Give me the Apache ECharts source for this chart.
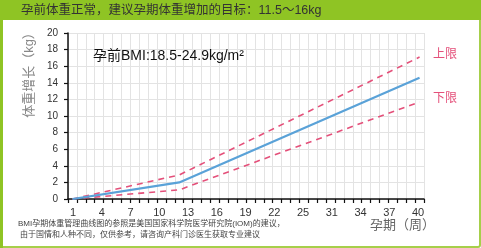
<!DOCTYPE html>
<html><head><meta charset="utf-8">
<script src="https://cdn.jsdelivr.net/npm/echarts@6/dist/echarts.min.js"></script>
<style>html,body{margin:0;padding:0;background:#fff}#c{width:481px;height:248px}</style>
</head><body><div id="c"></div>
<script>
// categories: pregnancy weeks 1..40
var weeks = ['1','2','3','4','5','6','7','8','9','10','11','12','13','14','15','16','17','18','19','20',
             '21','22','23','24','25','26','27','28','29','30','31','32','33','34','35','36','37','38','39','40'];
// tick labels as printed under the axis (13 evenly spaced labels in the original)
var xTickLabels = ['1','4','7','10','13','16','19','22','25','31','34','37','40'];
// series values: [week, kg]
var meanPts  = [['1',0],['13',2.0],['40',14.6]];
var upperPts = [['1',0],['13',2.9],['40',17.1]];
var lowerPts = [['1',0],['13',1.1],['40',11.7]];

var FONT = 'Liberation Sans, Arial, "Noto Sans CJK SC", sans-serif';
var chart = echarts.init(document.getElementById('c'), null, {renderer:'canvas'});
chart.setOption({
  animation:false,
  backgroundColor:'#fff',
  textStyle:{fontFamily:FONT},
  grid:[
    {left:68, right:57, top:33, bottom:49, containLabel:false},
    {left:73, right:63, top:33, bottom:49, containLabel:false}
  ],
  xAxis:[{
    type:'category', data:weeks, boundaryGap:true, gridIndex:0,
    axisLine:{lineStyle:{color:'#111', width:1.5}},
    axisTick:{show:true, interval:0, length:4, lineStyle:{color:'#111', width:1.2}},
    axisLabel:{show:false},
    splitLine:{show:true, interval:0, lineStyle:{color:'#e3e3e3', width:1}}
  },{
    type:'category', data:xTickLabels, boundaryGap:false, gridIndex:1,
    axisLine:{show:false}, axisTick:{show:false}, splitLine:{show:false},
    axisLabel:{interval:0, margin:8, fontSize:11, color:'#333', showMaxLabel:true, showMinLabel:true}
  }],
  yAxis:[{
    type:'value', min:0, max:20, interval:2, gridIndex:0,
    axisLine:{show:true, lineStyle:{color:'#111', width:1.5}},
    axisTick:{show:true, length:4, lineStyle:{color:'#111', width:1.2}},
    axisLabel:{fontSize:10, color:'#333', margin:10},
    splitLine:{show:true, lineStyle:{color:'#e3e3e3', width:1}}
  },{
    type:'value', min:0, max:20, gridIndex:1, show:false
  }],
  series:[
    {type:'line', data:upperPts, symbol:'none', lineStyle:{color:'#e4507a', width:1.6, type:[6,5]}, z:3},
    {type:'line', data:lowerPts, symbol:'none', lineStyle:{color:'#e4507a', width:1.6, type:[6,5]}, z:3},
    {type:'line', data:meanPts, symbol:'none', lineStyle:{color:'#5aa2d8', width:2.2}, z:4}
  ],
  graphic:[
    {type:'rect', shape:{x:1, y:1, width:479, height:246, r:2}, style:{fill:'none', stroke:'#a6cf4a', lineWidth:2}, z:-10},
    {type:'rect', shape:{x:0, y:0, width:3, height:248}, style:{fill:'#8fc424'}, z:-9},
    {type:'rect', shape:{x:0, y:0, width:481, height:20}, style:{fill:'#8fc424'}, z:-9},
    {type:'text', x:21, y:11, style:{text:'孕前体重正常，建议孕期体重增加的目标：11.5～16kg', fill:'#333', font:'12.5px '+FONT, textVerticalAlign:'middle'}},
    {type:'text', x:29, y:72, rotation:Math.PI/2, style:{text:'体重增长（kg）', fill:'#888', font:'13px '+FONT, textAlign:'center', textVerticalAlign:'middle'}},
    {type:'text', x:93, y:56, style:{text:'孕前BMI:18.5-24.9kg/m²', fill:'#111', font:'14px '+FONT, textVerticalAlign:'middle'}, z:10},
    {type:'text', x:433, y:55, style:{text:'上限', fill:'#e4507a', font:'12px '+FONT, textVerticalAlign:'middle'}},
    {type:'text', x:433, y:99, style:{text:'下限', fill:'#e4507a', font:'12px '+FONT, textVerticalAlign:'middle'}},
    {type:'text', x:370, y:225, style:{text:'孕期（周）', fill:'#666', font:'13px '+FONT, textVerticalAlign:'middle'}},
    {type:'text', x:18, y:224, style:{text:'BMI孕期体重管理曲线图的参照是美国国家科学院医学研究院(IOM)的建议，', fill:'#444', font:'8px '+FONT, textVerticalAlign:'middle'}},
    {type:'text', x:20, y:235, style:{text:'由于国情和人种不同，仅供参考，请咨询产科门诊医生获取专业建议', fill:'#444', font:'8px '+FONT, textVerticalAlign:'middle'}}
  ]
});
</script></body></html>
